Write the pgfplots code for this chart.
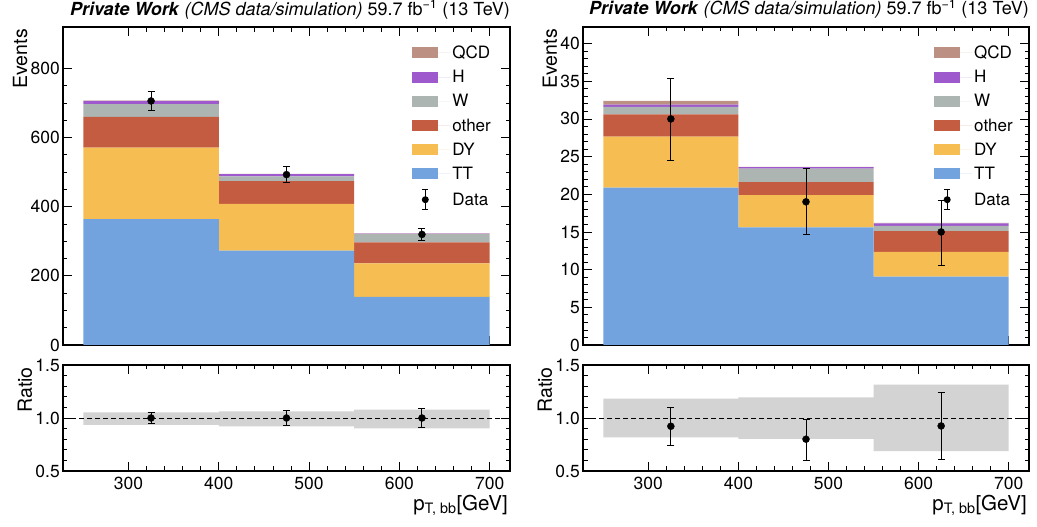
\documentclass[border=0pt]{standalone}
\usepackage{fontspec}
\setmainfont{TeX Gyre Heros}
\usepackage{pgfplots}
\pgfplotsset{compat=1.18}

\definecolor{cTT}{RGB}{114,163,222}
\definecolor{cDY}{RGB}{246,190,82}
\definecolor{cOther}{RGB}{196,92,66}
\definecolor{cW}{RGB}{172,181,178}
\definecolor{cH}{RGB}{158,90,205}
\definecolor{cQCD}{RGB}{188,144,130}
\definecolor{cBand}{RGB}{211,211,211}

\newcommand{\fs}[1]{\fontsize{#1}{#1}\selectfont}

\pgfplotsset{
  hep/.style={
    scale only axis, anchor=south west,
    xmin=227.5, xmax=722.5,
    xtick={300,400,500,600,700},
    minor x tick num=4,
    tick align=inside,
    xtick pos=both, ytick pos=both,
    xticklabel pos=lower, yticklabel pos=left,
    major tick length=9pt, minor tick length=4.5pt,
    every tick/.style={black, line width=0.8pt},
    axis line style={line width=1.5pt},
    tick label style={font=\fs{17.5}},
    yticklabel style={inner sep=1pt, xshift=-2pt},
    xticklabel style={yshift=-3pt},
    /pgf/number format/assume math mode=true,
    ylabel style={font=\fs{19.5}, at={(ticklabel cs:1)}, anchor=south east, inner sep=2pt},
    xlabel style={font=\fs{20.5}, at={(ticklabel cs:1)}, anchor=north east, inner sep=1pt, xshift=-1pt},
    title style={font=\fs{18}, at={(1,1)}, anchor=base east, yshift=6pt, inner sep=0pt},
  },
  over/.style={scale only axis, anchor=south west, xmin=227.5, xmax=722.5, hide axis},
  patch/.style={legend image code/.code={%
      \fill[##1, draw=none] (0pt,-5.5pt) rectangle (26pt,5.5pt);
      \path[draw=none] (0pt,0pt) -- (38pt,0pt);}},
  dataleg/.style={legend image code/.code={%
      \draw[black, line width=1pt] (13pt,-10pt) -- (13pt,10pt);
      \draw[black, line width=1pt] (10pt,-10pt) -- (16pt,-10pt);
      \draw[black, line width=1pt] (10pt,10pt) -- (16pt,10pt);
      \fill[black, draw=none] (13pt,0pt) circle (3.5pt);
      \path[draw=none] (0pt,0pt) -- (38pt,0pt);}},
  hepleg/.style={legend style={draw=none, fill=none, font=\fs{17}, at={(axis description cs:#1,0.948)}, anchor=north west, inner sep=0pt, row sep=6.3pt, legend cell align=left}},
  datastyle/.style={only marks, mark=*, mark size=3.5pt, black,
    error bars/.cd, y dir=both, y explicit,
    error bar style={line width=1pt, black},
    error mark options={rotate=90, mark size=3.5pt, line width=1pt, black}},
}

\newcommand{\ttl}{\textbf{\textit{Private Work}} \textit{(CMS data/simulation)} 59.7 fb\textsuperscript{−1} (13 TeV)}

\begin{document}
\begin{tikzpicture}
\useasboundingbox (0pt,0pt) rectangle (1037pt,527pt);

% ---------------- LEFT MAIN ----------------
\begin{axis}[hep, at={(63pt,182pt)}, width=447pt, height=318pt,
  ymin=0, ymax=920, ytick={0,200,400,600,800}, minor y tick num=3,
  xticklabels={}, ylabel={Events}, title={\ttl},
  ybar stacked, bar width=150, hepleg=0.781]
\addplot[fill=cTT, draw=none, forget plot] coordinates {(325,364) (475,273) (625,139)};
\addplot[fill=cDY, draw=none, forget plot] coordinates {(325,207) (475,135) (625,97)};
\addplot[fill=cOther, draw=none, forget plot] coordinates {(325,89) (475,66) (625,61)};
\addplot[fill=cW, draw=none, forget plot] coordinates {(325,37) (475,14) (625,24)};
\addplot[fill=cH, draw=none, forget plot] coordinates {(325,9) (475,6) (625,1)};
\addplot[fill=cQCD, draw=none, forget plot] coordinates {(325,1) (475,1) (625,1)};
\addlegendimage{patch, fill=cQCD}\addlegendentry{QCD}
\addlegendimage{patch, fill=cH}\addlegendentry{H}
\addlegendimage{patch, fill=cW}\addlegendentry{W}
\addlegendimage{patch, fill=cOther}\addlegendentry{other}
\addlegendimage{patch, fill=cDY}\addlegendentry{DY}
\addlegendimage{patch, fill=cTT}\addlegendentry{TT}
\addlegendimage{dataleg}\addlegendentry{Data}
\end{axis}
\begin{axis}[over, at={(63pt,182pt)}, width=447pt, height=318pt, ymin=0, ymax=920]
\addplot[datastyle] coordinates {(325,706) +- (0,28) (475,493) +- (0,23) (625,320) +- (0,18)};
\end{axis}

% ---------------- LEFT RATIO ----------------
\begin{axis}[hep, at={(63pt,56pt)}, width=447pt, height=106pt,
  ymin=0.5, ymax=1.5, ytick={0.5,1,1.5}, minor y tick num=4,
  yticklabel style={/pgf/number format/.cd, fixed, fixed zerofill, precision=1},
  ylabel={Ratio}, xlabel={p\textsubscript{T, bb}[GeV]},
  ybar stacked, bar width=150]
\addplot[fill=none, draw=none, forget plot] coordinates {(325,0.934) (475,0.922) (625,0.903)};
\addplot[fill=cBand, draw=none, forget plot] coordinates {(325,0.119) (475,0.140) (625,0.175)};
\end{axis}
\begin{axis}[over, at={(63pt,56pt)}, width=447pt, height=106pt, ymin=0.5, ymax=1.5]
\addplot[black, dash pattern=on 5pt off 3pt, line width=0.9pt, forget plot] coordinates {(227.5,1) (722.5,1)};
\addplot[datastyle] coordinates {(325,1.0) +- (0,0.055) (475,1.0) +- (0,0.068) (625,1.0) +- (0,0.085)};
\end{axis}

% ---------------- RIGHT MAIN ----------------
\begin{axis}[hep, at={(583pt,182pt)}, width=446pt, height=318pt,
  ymin=0, ymax=42.2, ytick={0,5,...,40}, minor y tick num=4,
  xticklabels={}, ylabel={Events}, title={\ttl},
  ybar stacked, bar width=150, hepleg=0.787]
\addplot[fill=cTT, draw=none, forget plot] coordinates {(325,20.9) (475,15.6) (625,9.07)};
\addplot[fill=cDY, draw=none, forget plot] coordinates {(325,6.75) (475,4.3) (625,3.28)};
\addplot[fill=cOther, draw=none, forget plot] coordinates {(325,2.95) (475,1.7) (625,2.75)};
\addplot[fill=cW, draw=none, forget plot] coordinates {(325,1.0) (475,1.8) (625,0.7)};
\addplot[fill=cH, draw=none, forget plot] coordinates {(325,0.3) (475,0.2) (625,0.35)};
\addplot[fill=cQCD, draw=none, forget plot] coordinates {(325,0.5) (475,0.05) (625,0.05)};
\addlegendimage{patch, fill=cQCD}\addlegendentry{QCD}
\addlegendimage{patch, fill=cH}\addlegendentry{H}
\addlegendimage{patch, fill=cW}\addlegendentry{W}
\addlegendimage{patch, fill=cOther}\addlegendentry{other}
\addlegendimage{patch, fill=cDY}\addlegendentry{DY}
\addlegendimage{patch, fill=cTT}\addlegendentry{TT}
\addlegendimage{dataleg}\addlegendentry{Data}
\end{axis}
\begin{axis}[over, at={(583pt,182pt)}, width=446pt, height=318pt, ymin=0, ymax=42.2]
\addplot[datastyle] coordinates {(325,30) +=(0,5.4) -=(0,5.5) (475,19) +=(0,4.4) -=(0,4.3) (625,15) +=(0,4.2) -=(0,4.4)};
\end{axis}

% ---------------- RIGHT RATIO ----------------
\begin{axis}[hep, at={(583pt,56pt)}, width=446pt, height=106pt,
  ymin=0.5, ymax=1.5, ytick={0.5,1,1.5}, minor y tick num=4,
  yticklabel style={/pgf/number format/.cd, fixed, fixed zerofill, precision=1},
  ylabel={Ratio}, xlabel={p\textsubscript{T, bb}[GeV]},
  ybar stacked, bar width=150]
\addplot[fill=none, draw=none, forget plot] coordinates {(325,0.817) (475,0.802) (625,0.687)};
\addplot[fill=cBand, draw=none, forget plot] coordinates {(325,0.365) (475,0.393) (625,0.629)};
\end{axis}
\begin{axis}[over, at={(583pt,56pt)}, width=446pt, height=106pt, ymin=0.5, ymax=1.5]
\addplot[black, dash pattern=on 5pt off 3pt, line width=0.9pt, forget plot] coordinates {(227.5,1) (722.5,1)};
\addplot[datastyle] coordinates {(325,0.922) +=(0,0.178) -=(0,0.184) (475,0.80) +=(0,0.19) -=(0,0.20) (625,0.925) +=(0,0.315) -=(0,0.315)};
\end{axis}
\end{tikzpicture}
\end{document}
